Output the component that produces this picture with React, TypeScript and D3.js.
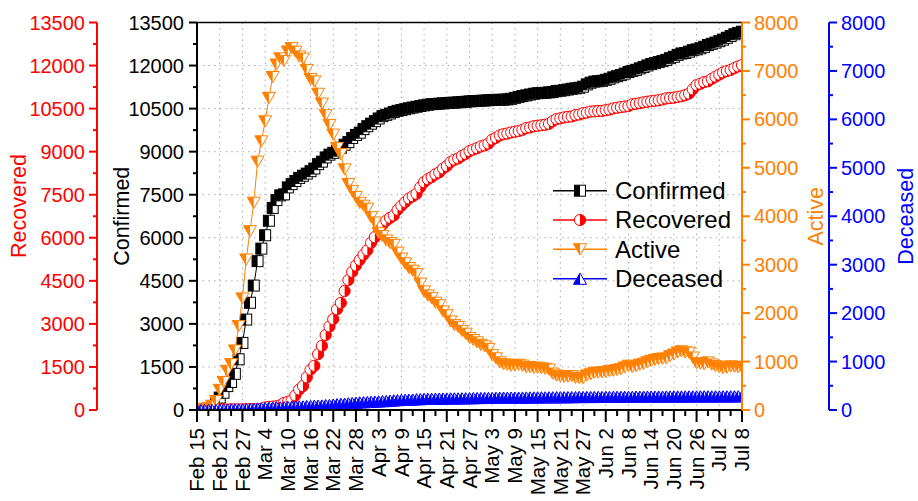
import React from "react";
import * as d3 from "d3";

// ---------- data (daily, Feb 15 – Jul 8, 2020) ----------
const startDay = new Date(Date.UTC(2020, 1, 15));

const confirmed = [
  29, 30, 31, 51, 104, 204, 433, 602, 833, 977, 1261, 1766, 2337, 3150,
  3736, 4335, 5186, 5621, 6088, 6593, 7041, 7314, 7478, 7513, 7755, 7869, 7979, 8086, 8162, 8236, 8320, 8413, 8565, 8652, 8799, 8897, 8961, 9037, 9137, 9241, 9332, 9478, 9583, 9661, 9786,
  9887, 9976, 10062, 10156, 10237, 10284, 10331, 10384, 10423, 10450, 10480, 10512, 10537, 10564, 10591, 10613, 10635, 10653, 10661, 10674, 10683, 10694, 10702, 10708, 10718, 10728, 10738, 10752, 10761, 10765,
  10774, 10780, 10793, 10801, 10804, 10806, 10810, 10822, 10840, 10874, 10909, 10936, 10962, 10991, 11018, 11037, 11044, 11050, 11065, 11078, 11110, 11122, 11142, 11165, 11190, 11206, 11225, 11265, 11344, 11402, 11441, 11455, 11468,
  11503, 11541, 11590, 11629, 11668, 11719, 11776, 11814, 11852, 11902, 11947, 12003, 12051, 12085, 12121, 12155, 12198, 12257, 12306, 12373, 12421, 12438, 12484, 12535, 12563, 12602, 12653, 12715, 12757, 12800,
  12850, 12904, 12967, 13030, 13091, 13137, 13181,
];

const recovered = [
  9, 10, 12, 12, 16, 16, 16, 18, 18, 22, 22, 22, 22, 27,
  30, 30, 30, 41, 88, 108, 118, 130, 166, 247, 288, 333, 510, 714, 834, 1137, 1407, 1540, 1947, 2233, 2612, 2909, 3166, 3507, 3730, 4144, 4528, 4811, 5033, 5228, 5408,
  5567, 5828, 6021, 6325, 6463, 6598, 6694, 6776, 6973, 7117, 7243, 7368, 7447, 7534, 7757, 7937, 8042, 8114, 8213, 8277, 8411, 8501, 8635, 8717, 8764, 8854, 8922, 9021, 9072, 9123,
  9183, 9217, 9283, 9419, 9484, 9568, 9610, 9632, 9670, 9695, 9720, 9762, 9821, 9846, 9888, 9904, 9921, 9938, 9970, 10066, 10135, 10162, 10194, 10213, 10226, 10275, 10295, 10340, 10363, 10398, 10405, 10413, 10422,
  10446, 10467, 10506, 10531, 10552, 10570, 10589, 10654, 10669, 10691, 10718, 10740, 10760, 10774, 10793, 10819, 10856, 10868, 10881, 10908, 10930, 10970, 11021, 11172, 11317, 11364, 11424, 11452, 11537, 11613,
  11684, 11759, 11811, 11848, 11914, 11970, 12019,
];

const active = [
  20, 20, 19, 39, 87, 186, 415, 578, 807, 945, 1227, 1731, 2302, 3107,
  3689, 4277, 5124, 5545, 5958, 6441, 6873, 7131, 7258, 7206, 7401, 7470, 7397, 7297, 7253, 7018, 6829, 6782, 6527, 6325, 6085, 5884, 5684, 5410, 5281, 4966, 4665, 4523, 4398, 4275, 4216,
  4155, 3979, 3867, 3654, 3591, 3500, 3445, 3408, 3246, 3125, 3026, 2930, 2873, 2808, 2609, 2447, 2363, 2307, 2214, 2161, 2035, 1955, 1827, 1751, 1714, 1632, 1573, 1487, 1443, 1395,
  1343, 1313, 1260, 1130, 1066, 983, 944, 934, 914, 923, 933, 916, 882, 885, 870, 871, 860, 850, 832, 749, 711, 696, 684, 686, 698, 664, 661, 656, 712, 735, 766, 771, 776,
  785, 802, 811, 825, 843, 876, 914, 887, 907, 935, 953, 986, 1014, 1034, 1051, 1059, 1063, 1110, 1145, 1185, 1211, 1188, 1182, 1082, 964, 956, 947, 981, 938, 905,
  884, 862, 873, 899, 894, 883, 877,
];

const deceased = [
  0, 0, 0, 0, 1, 2, 2, 6, 8, 10, 12, 13, 13, 16,
  17, 28, 32, 35, 42, 44, 50, 53, 54, 60, 66, 66, 72, 75, 75, 81, 84, 91, 91, 94, 102, 104, 111, 120, 126, 131, 139, 144, 152, 158, 162,
  165, 169, 174, 177, 183, 186, 192, 200, 204, 208, 211, 214, 217, 222, 225, 229, 230, 232, 234, 236, 237, 238, 240, 240, 240, 242, 243, 244, 246, 247,
  248, 250, 250, 252, 254, 255, 256, 256, 256, 256, 256, 258, 259, 260, 260, 262, 262, 262, 263, 263, 264, 264, 264, 266, 266, 267, 269, 269, 269, 269, 270, 270, 270,
  272, 272, 273, 273, 273, 273, 273, 273, 276, 276, 276, 277, 277, 277, 277, 277, 279, 279, 280, 280, 280, 280, 281, 281, 282, 282, 282, 282, 282, 282,
  282, 283, 283, 283, 283, 284, 285,
];

const xTickLabels = [
  "Feb 15", "Feb 21", "Feb 27", "Mar 4", "Mar 10", "Mar 16", "Mar 22", "Mar 28",
  "Apr 3", "Apr 9", "Apr 15", "Apr 21", "Apr 27", "May 3", "May 9", "May 15",
  "May 21", "May 27", "Jun 2", "Jun 8", "Jun 14", "Jun 20", "Jun 26", "Jul 2", "Jul 8",
];
const tickStepDays = 6;
const leftTicks = [0, 1500, 3000, 4500, 6000, 7500, 9000, 10500, 12000, 13500];
const rightTicks = [0, 1000, 2000, 3000, 4000, 5000, 6000, 7000, 8000];

const legendNames = ["Confirmed", "Recovered", "Active", "Deceased"];

// ---------- layout ----------
const W = 918;
const H = 501;
const X0 = 197;
const X1 = 742;
const YT = 22.5;
const YB = 410;
const RED_AX = 97;
const BLUE_AX = 829;

const C_BLACK = "#000000";
const C_RED = "#ff0000";
const C_ORANGE = "#ff8000";
const C_BLUE = "#0000ff";
const FONT = "'Liberation Sans', Arial, Helvetica, sans-serif";

const dates = confirmed.map((_, i) => d3.utcDay.offset(startDay, i));

type MType = "square" | "circle" | "down" | "up";

function Marker({ type, color, x, y }: { type: MType; color: string; x: number; y: number }) {
  const t = `translate(${x},${y})`;
  if (type === "square") {
    const s = 5.5;
    return (
      <g transform={t}>
        <rect x={-s} y={-s} width={2 * s} height={2 * s} fill="#fff" />
        <rect x={-s} y={-s} width={s} height={2 * s} fill={color} />
        <rect x={-s} y={-s} width={2 * s} height={2 * s} fill="none" stroke={color} strokeWidth={1} />
      </g>
    );
  }
  if (type === "circle") {
    const r = 5.6;
    return (
      <g transform={t}>
        <circle r={r} fill="#fff" />
        <path d={`M0,${-r}A${r},${r} 0 0 1 0,${r}Z`} fill={color} />
        <circle r={r} fill="none" stroke={color} strokeWidth={1} />
      </g>
    );
  }
  const w = 6.5;
  const h = 5.6;
  if (type === "down") {
    return (
      <g transform={t}>
        <polygon points={`${-w},${-h} ${w},${-h} 0,${h}`} fill="#fff" />
        <polygon points={`${-w},${-h} 0,${-h} 0,${h}`} fill={color} />
        <polygon points={`${-w},${-h} ${w},${-h} 0,${h}`} fill="none" stroke={color} strokeWidth={1} />
      </g>
    );
  }
  return (
    <g transform={t}>
      <polygon points={`0,${-h} ${w},${h} ${-w},${h}`} fill="#fff" />
      <polygon points={`0,${-h} 0,${h} ${-w},${h}`} fill={color} />
      <polygon points={`0,${-h} ${w},${h} ${-w},${h}`} fill="none" stroke={color} strokeWidth={1} />
    </g>
  );
}

export default function App() {
  const x = d3.scaleUtc().domain([dates[0], dates[dates.length - 1]]).range([X0, X1]);
  const yL = d3.scaleLinear().domain([0, 13500]).range([YB, YT]);
  const yR = d3.scaleLinear().domain([0, 8000]).range([YB, YT]);

  const series = [
    { name: legendNames[0], values: confirmed, y: yL, color: C_BLACK, type: "square" as MType },
    { name: legendNames[1], values: recovered, y: yL, color: C_RED, type: "circle" as MType },
    { name: legendNames[2], values: active, y: yR, color: C_ORANGE, type: "down" as MType },
    { name: legendNames[3], values: deceased, y: yR, color: C_BLUE, type: "up" as MType },
  ];

  const majorDates = xTickLabels.map((_, i) => dates[i * tickStepDays]);
  const minorDates = xTickLabels.slice(0, -1).map((_, i) => dates[i * tickStepDays + tickStepDays / 2]);

  const leftMinor = leftTicks.slice(0, -1).map((v) => v + 750);
  const rightMinor = rightTicks.slice(0, -1).map((v) => v + 500);

  const tickFont = 20;
  const xTickFont = 20.5;
  const titleFont = 21.5;
  const midY = (YT + YB) / 2;

  const legendRows = [190.7, 220, 249.3, 278.7];

  return (
    <svg
      width={W}
      height={H}
      viewBox={`0 0 ${W} ${H}`}
      style={{ position: "absolute", left: 0, top: 0, background: "#fff" }}
      fontFamily={FONT}
    >
      <defs>
        <clipPath id="plotClip">
          <rect x={X0} y={YT} width={X1 - X0} height={YB - YT} />
        </clipPath>
      </defs>
      <rect x={0} y={0} width={W} height={H} fill="#fff" />

      {/* grid */}
      <g stroke="#a8a8a8" strokeWidth={1} strokeDasharray="1.5,4.2">
        {majorDates.slice(1, -1).map((d, i) => (
          <line key={"gv" + i} x1={x(d)} x2={x(d)} y1={YT} y2={YB} />
        ))}
        {leftTicks.slice(1, -1).map((v, i) => (
          <line key={"gh" + i} x1={X0} x2={X1} y1={yL(v)} y2={yL(v)} />
        ))}
      </g>

      {/* series */}
      <g clipPath="url(#plotClip)">
        {series.map((s) => {
          const line = d3
            .line<number>()
            .x((_, i) => x(dates[i]))
            .y((v) => s.y(v));
          return (
            <g key={s.name}>
              <path d={line(s.values) || ""} fill="none" stroke={s.color} strokeWidth={1} />
              {s.values.map((v, i) => (
                <Marker key={i} type={s.type} color={s.color} x={x(dates[i])} y={s.y(v)} />
              ))}
            </g>
          );
        })}
      </g>

      {/* frame top */}
      <line x1={X0} x2={X1} y1={YT} y2={YT} stroke={C_BLACK} strokeWidth={1.5} />

      {/* bottom axis */}
      <g stroke={C_BLACK} strokeWidth={2}>
        <line x1={X0 - 1} x2={X1 + 1} y1={YB} y2={YB} />
        {majorDates.map((d, i) => (
          <line key={"bt" + i} x1={x(d)} x2={x(d)} y1={YB} y2={YB + 12} />
        ))}
        {minorDates.map((d, i) => (
          <line key={"bm" + i} x1={x(d)} x2={x(d)} y1={YB} y2={YB + 6} />
        ))}
      </g>
      <g fontSize={xTickFont} fill={C_BLACK}>
        {majorDates.map((d, i) => (
          <text
            key={"bl" + i}
            transform={`translate(${x(d)},${YB + 18}) rotate(-90)`}
            textAnchor="end"
            dy="0.35em"
          >
            {xTickLabels[i]}
          </text>
        ))}
      </g>

      {/* left black axis */}
      <g stroke={C_BLACK} strokeWidth={2}>
        <line x1={X0} x2={X0} y1={YT} y2={YB} />
        {leftTicks.map((v, i) => (
          <line key={"lt" + i} x1={X0 - 8} x2={X0} y1={yL(v)} y2={yL(v)} />
        ))}
        {leftMinor.map((v, i) => (
          <line key={"lm" + i} x1={X0 - 4} x2={X0} y1={yL(v)} y2={yL(v)} />
        ))}
      </g>
      <g fontSize={tickFont} fill={C_BLACK} textAnchor="end">
        {leftTicks.map((v, i) => (
          <text key={"ll" + i} x={X0 - 13} y={yL(v)} dy="0.35em">
            {v}
          </text>
        ))}
      </g>
      <text
        transform={`translate(121,${midY}) rotate(-90)`}
        textAnchor="middle"
        dy="0.35em"
        fontSize={titleFont}
        fill={C_BLACK}
      >
        Confirmed
      </text>

      {/* left red axis */}
      <g stroke={C_RED} strokeWidth={2}>
        <line x1={RED_AX} x2={RED_AX} y1={YT} y2={YB} />
        {leftTicks.map((v, i) => (
          <line key={"rt" + i} x1={RED_AX - 8} x2={RED_AX} y1={yL(v)} y2={yL(v)} />
        ))}
        {leftMinor.map((v, i) => (
          <line key={"rm" + i} x1={RED_AX - 4} x2={RED_AX} y1={yL(v)} y2={yL(v)} />
        ))}
      </g>
      <g fontSize={tickFont} fill={C_RED} textAnchor="end">
        {leftTicks.map((v, i) => (
          <text key={"rl" + i} x={RED_AX - 12} y={yL(v)} dy="0.35em">
            {v}
          </text>
        ))}
      </g>
      <text
        transform={`translate(18,206) rotate(-90)`}
        textAnchor="middle"
        dy="0.35em"
        fontSize={titleFont}
        fill={C_RED}
      >
        Recovered
      </text>

      {/* right orange axis */}
      <g stroke={C_ORANGE} strokeWidth={2}>
        <line x1={X1} x2={X1} y1={YT} y2={YB} />
        {rightTicks.map((v, i) => (
          <line key={"ot" + i} x1={X1} x2={X1 + 8} y1={yR(v)} y2={yR(v)} />
        ))}
        {rightMinor.map((v, i) => (
          <line key={"om" + i} x1={X1} x2={X1 + 4} y1={yR(v)} y2={yR(v)} />
        ))}
      </g>
      <g fontSize={tickFont} fill={C_ORANGE} textAnchor="start">
        {rightTicks.map((v, i) => (
          <text key={"ol" + i} x={X1 + 12} y={yR(v)} dy="0.35em">
            {v}
          </text>
        ))}
      </g>
      <text
        transform={`translate(815,${midY}) rotate(-90)`}
        textAnchor="middle"
        dy="0.35em"
        fontSize={titleFont}
        fill={C_ORANGE}
      >
        Active
      </text>

      {/* right blue axis */}
      <g stroke={C_BLUE} strokeWidth={2}>
        <line x1={BLUE_AX} x2={BLUE_AX} y1={YT} y2={YB} />
        {rightTicks.map((v, i) => (
          <line key={"zt" + i} x1={BLUE_AX} x2={BLUE_AX + 8} y1={yR(v)} y2={yR(v)} />
        ))}
        {rightMinor.map((v, i) => (
          <line key={"zm" + i} x1={BLUE_AX} x2={BLUE_AX + 4} y1={yR(v)} y2={yR(v)} />
        ))}
      </g>
      <g fontSize={tickFont} fill={C_BLUE} textAnchor="start">
        {rightTicks.map((v, i) => (
          <text key={"zl" + i} x={BLUE_AX + 12} y={yR(v)} dy="0.35em">
            {v}
          </text>
        ))}
      </g>
      <text
        transform={`translate(905,${midY}) rotate(-90)`}
        textAnchor="middle"
        dy="0.35em"
        fontSize={titleFont}
        fill={C_BLUE}
      >
        Deceased
      </text>

      {/* legend */}
      <g>
        {series.map((s, i) => (
          <g key={"lg" + i}>
            <line x1={553} x2={607} y1={legendRows[i]} y2={legendRows[i]} stroke={s.color} strokeWidth={1.5} />
            <Marker type={s.type} color={s.color} x={580} y={legendRows[i]} />
            <text x={615} y={legendRows[i]} dy="0.35em" fontSize={24} fill={C_BLACK}>
              {s.name}
            </text>
          </g>
        ))}
      </g>
    </svg>
  );
}
